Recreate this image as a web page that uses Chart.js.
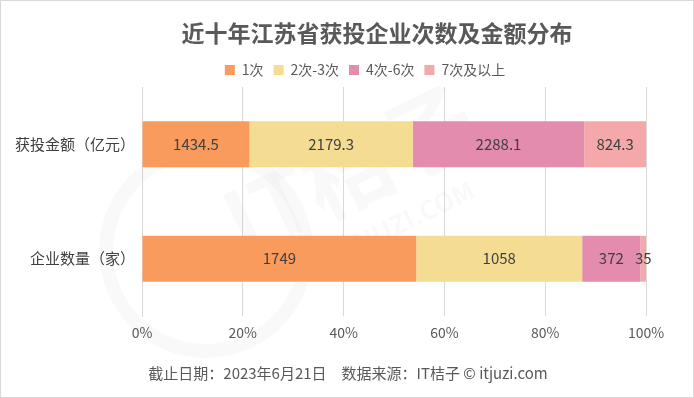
<!DOCTYPE html>
<html>
<head>
<meta charset="utf-8">
<script src="https://cdn.jsdelivr.net/npm/chart.js@4.4.0/dist/chart.umd.min.js"></script>
<style>
 html,body{margin:0;padding:0;background:#fff;}
 #wrap{position:relative;width:694px;height:398px;box-sizing:border-box;border:1px solid #d9d9d9;}
</style>
</head>
<body>
<div id="wrap"><canvas id="canvas_chart" width="692" height="396"></canvas></div>
<script>
// data
var chart_title="近十年江苏省获投企业次数及金额分布";
var chart_footer="截止日期：2023年6月21日　数据来源：IT桔子 © itjuzi.com";
var categories=["获投金额（亿元）","企业数量（家）"];
var series_names=["1次","2次-3次","4次-6次","7次及以上"];
var s_once=[1434.5,1749];
var s_2to3=[2179.3,1058];
var s_4to6=[2288.1,372];
var s_7plus=[824.3,35];
var colors=["#F89B5D","#F4DD93","#E38CAE","#F4A8AA"];
// totals per category
var raw=[s_once,s_2to3,s_4to6,s_7plus];
var totals=categories.map(function(c,i){return raw.reduce(function(a,s){return a+s[i];},0);});
var font_family="'Noto Sans CJK SC','Noto Sans',sans-serif";
// title, footer, category labels and faint watermark
var decorations={
 id:'decorations',
 beforeDatasetsDraw:function(chart){
  var ctx=chart.ctx;
  ctx.save();
  ctx.strokeStyle="rgba(0,0,0,0.025)";
  ctx.lineWidth=14;
  ctx.beginPath();ctx.arc(205,250,100,0,Math.PI*2);ctx.stroke();
  ctx.translate(330,200);ctx.rotate(-0.45);
  ctx.fillStyle="rgba(0,0,0,0.025)";
  ctx.font="bold 90px "+font_family;
  ctx.textAlign="center";ctx.textBaseline="middle";
  ctx.fillText("IT桔子",30,-20);
  ctx.font="bold 26px "+font_family;
  ctx.fillText("ITJUZI.COM",60,50);
  ctx.restore();
 },
 afterDraw:function(chart){
  var ctx=chart.ctx;
  var y=chart.scales.y;
  ctx.save();
  ctx.textAlign="center";ctx.textBaseline="middle";
  ctx.fillStyle="#595959";
  ctx.font="bold 23px "+font_family;
  ctx.fillText(chart_title,376,32);
  ctx.font="15px "+font_family;
  ctx.fillText(chart_footer,347,372);
  // category labels
  ctx.textAlign="right";
  ctx.fillStyle="#404040";
  ctx.font="15px "+font_family;
  categories.forEach(function(c,i){ctx.fillText(c,134,y.getPixelForValue(i));});
  ctx.restore();
 }
};
// inline value labels
var value_labels={
 id:'value_labels',
 afterDatasetsDraw:function(chart){
  var ctx=chart.ctx;
  ctx.save();
  ctx.font="15px "+font_family;
  ctx.fillStyle="#404040";
  ctx.textAlign="center";
  ctx.textBaseline="middle";
  chart.data.datasets.forEach(function(ds,di){
   chart.getDatasetMeta(di).data.forEach(function(bar,i){
    var x=(bar.x+bar.base)/2;
    ctx.fillText(String(ds.raw[i]),x,bar.y);
   });
  });
  ctx.restore();
 }
};
var datasets=raw.map(function(s,k){
 return {
  label:series_names[k],
  raw:s,
  data:s.map(function(v,i){return v/totals[i]*100;}),
  backgroundColor:colors[k],
  borderWidth:0,
  categoryPercentage:0.8,
  barPercentage:0.5
 };
});
var ctx=document.getElementById("canvas_chart").getContext('2d');
var myChart=new Chart(ctx,{
 type:'bar',
 data:{labels:categories,datasets:datasets},
 plugins:[decorations,value_labels],
 options:{
  indexAxis:'y',
  responsive:false,
  animation:false,
  layout:{padding:{left:83,right:47,top:52,bottom:0}},
  plugins:{
   title:{display:false},
   legend:{position:'top',labels:{boxWidth:10,boxHeight:10,color:"#595959",padding:10,
    font:{family:font_family,size:14}}},
   tooltip:{enabled:false}
  },
  scales:{
   x:{stacked:true,min:0,max:100,
    ticks:{stepSize:20,color:"#595959",padding:8,font:{family:font_family,size:14},callback:function(v){return v+"%";}},
    grid:{color:"#d9d9d9",drawTicks:false},border:{display:false},
    afterFit:function(scale){scale.height=81;}},
   y:{stacked:true,
    ticks:{display:false},
    grid:{display:false},border:{color:"#d9d9d9"},
    afterFit:function(scale){scale.width=58;}}
  }
 }
});
</script>
</body>
</html>
